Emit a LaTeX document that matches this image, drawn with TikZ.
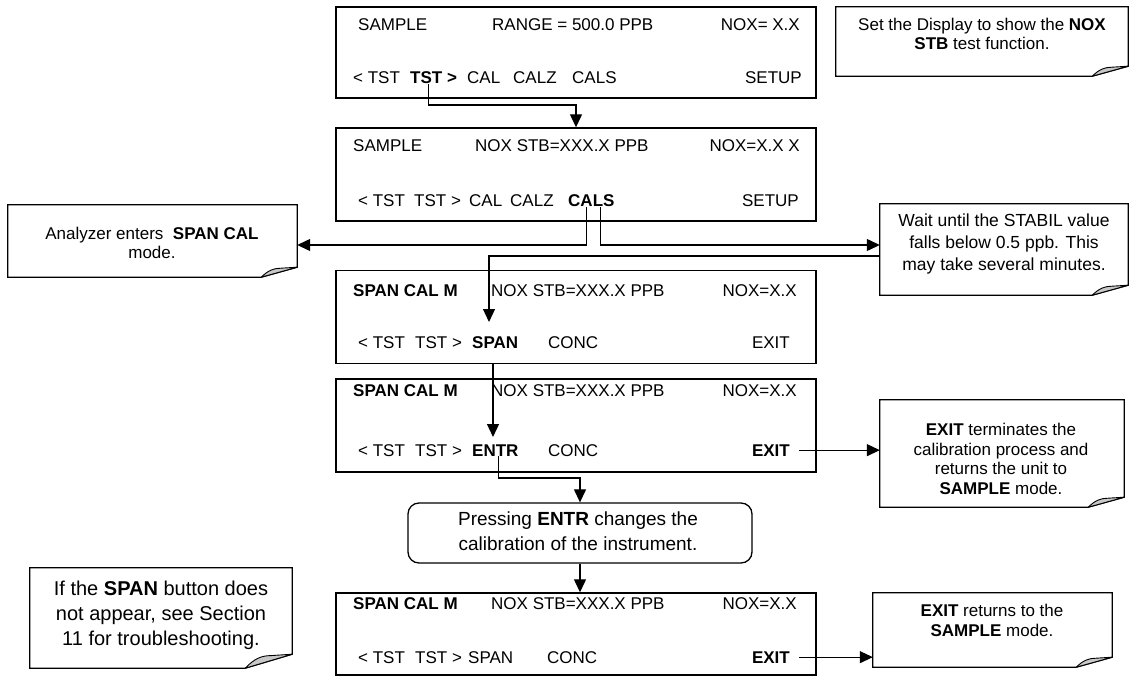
\documentclass[tikz,border=0pt]{standalone}
\usepackage{fontspec}
\setmainfont{Liberation Sans}
\usetikzlibrary{arrows.meta,calc}
\definecolor{foldgray}{RGB}{200,200,200}
\tikzset{
  lcd/.style={draw, line width=1.4pt, inner sep=0pt, minimum width=480pt},
  txt/.style={anchor=base west, inner sep=0pt, font=\fontsize{17}{20}\selectfont},
  rtxt/.style={anchor=base east, inner sep=0pt, font=\fontsize{17}{20}\selectfont},
  ntext/.style={align=center, inner sep=0pt},
  area/.style={inner sep=0pt, draw=none},
  noteline/.style={line width=1.3pt, line join=miter},
  flapline/.style={line width=0.9pt, line join=round},
  arr/.style={line width=1.2pt, -{Triangle[length=13pt,width=12pt]}},
}
\newcommand\notefold[3]{%
 \filldraw[noteline, fill=white] (#1.north west) -- (#1.north east) -- ($(#1.south east)+(0,-#3)$) -- ($(#1.south east)+(-#2,0)$) -- (#1.south west) -- cycle;
 \filldraw[flapline, fill=foldgray] ($(#1.south east)+(-#2,0)$) .. controls ($(#1.south east)+(-0.8*#2,-0.7*#3)$) and ($(#1.south east)+(-0.65*#2,-0.9*#3)$) .. ($(#1.south east)+(-0.45*#2,-0.9*#3)$) -- ($(#1.south east)+(0,-#3)$) -- cycle;
}
\begin{document}
\begin{tikzpicture}[x=1pt,y=-1pt]
\useasboundingbox (0,0) rectangle (1132,679);

% LCD boxes
\node[lcd, minimum height=91pt] (box1) at (576,52.5) {};
\node[lcd, minimum height=93pt] (box2) at (576,174.5) {};
\node[lcd, minimum height=93pt] (box3) at (576,317) {};
\node[lcd, minimum height=93pt] (box4) at (576,425.5) {};
\node[lcd, minimum height=82pt] (box5) at (576,634) {};

% box 1
\node[txt] (b1a) at (358,31) {SAMPLE};
\node[txt] (b1b) at (492,31) {RANGE = 500.0 PPB};
\node[rtxt] (b1c) at (800,31) {NOX= X.X};
\node[txt] (b1d) at (353,84) {< TST};
\node[txt] (tst1) at (410,84) {\textbf{TST >}};
\node[txt] (b1e) at (467,84) {CAL};
\node[txt] (b1f) at (513,84) {CALZ};
\node[txt] (b1g) at (572,84) {CALS};
\node[rtxt] (b1h) at (802,84) {SETUP};

% box 2
\node[txt] (b2a) at (353,152) {SAMPLE};
\node[txt] (b2b) at (475,152) {NOX STB=XXX.X PPB};
\node[rtxt] (b2c) at (800,152) {NOX=X.X X};
\node[txt] (b2d) at (358,207) {< TST};
\node[txt] (b2e) at (414,207) {TST >};
\node[txt] (b2f) at (469,207) {CAL};
\node[txt] (b2g) at (510,207) {CALZ};
\node[txt] (cals) at (568,207) {\textbf{CALS}};
\node[rtxt] (b2h) at (799,207) {SETUP};

% box 3
\node[txt] (b3a) at (353,296) {\textbf{SPAN CAL M}};
\node[txt] (b3b) at (491,296) {NOX STB=XXX.X PPB};
\node[rtxt] (b3c) at (797,296) {NOX=X.X};
\node[txt] (b3d) at (358,348) {< TST};
\node[txt] (b3e) at (415,348) {TST >};
\node[txt] (span3) at (472,348) {\textbf{SPAN}};
\node[txt] (b3f) at (548,348) {CONC};
\node[rtxt] (b3g) at (790,348) {EXIT};

% box 4
\node[txt] (b4a) at (353,396) {\textbf{SPAN CAL M}};
\node[txt] (b4b) at (491,396) {NOX STB=XXX.X PPB};
\node[rtxt] (b4c) at (797,396) {NOX=X.X};
\node[txt] (b4d) at (358,456) {< TST};
\node[txt] (b4e) at (415,456) {TST >};
\node[txt] (entr) at (472,456) {\textbf{ENTR}};
\node[txt] (b4f) at (548,456) {CONC};
\node[rtxt] (exit4) at (790,456) {\textbf{EXIT}};

% box 5
\node[txt] (b5a) at (353,609) {\textbf{SPAN CAL M}};
\node[txt] (b5b) at (491,609) {NOX STB=XXX.X PPB};
\node[rtxt] (b5c) at (797,609) {NOX=X.X};
\node[txt] (b5d) at (358,663) {< TST};
\node[txt] (b5e) at (415,663) {TST >};
\node[txt] (b5f) at (468,663) {SPAN};
\node[txt] (b5g) at (547,663) {CONC};
\node[rtxt] (exit5) at (790,663) {\textbf{EXIT}};

% callouts
\node[area, minimum width=292pt, minimum height=69pt] (c1) at (982,41.5) {};
\notefold{c1}{36}{10}
\node[ntext, font=\fontsize{17}{19}\selectfont] (c1t) at (982,34) {Set the Display to show the \textbf{NOX}\\\textbf{STB} test function.};

\node[area, minimum width=289pt, minimum height=72pt] (ca) at (152.5,241) {};
\notefold{ca}{36}{10}
\node[ntext, font=\fontsize{17}{19}\selectfont] (cat) at (152,243) {Analyzer enters \ \textbf{SPAN CAL}\\mode.};

\node[area, minimum width=248pt, minimum height=91pt] (cw) at (1004,249.5) {};
\notefold{cw}{36}{10}
\node[ntext, font=\fontsize{17.5}{22}\selectfont] (cwt) at (1004,244) {Wait until the STABIL value\\falls below 0.5 ppb. This\\may take several minutes.};

\node[area, minimum width=244pt, minimum height=107pt] (ce) at (1002,453.5) {};
\notefold{ce}{36}{10}
\node[ntext, font=\fontsize{17}{19.5}\selectfont] (cet) at (1001,459) {\textbf{EXIT} terminates the\\calibration process and\\returns the unit to\\\textbf{SAMPLE} mode.};

\node[area, minimum width=239pt, minimum height=74pt] (cr) at (992.5,630) {};
\notefold{cr}{36}{10}
\node[ntext, font=\fontsize{17}{20}\selectfont] (crt) at (992,620) {\textbf{EXIT} returns to the\\\textbf{SAMPLE} mode.};

\node[area, minimum width=262pt, minimum height=100pt] (cs) at (161,618) {};
\notefold{cs}{47}{14}
\node[ntext, font=\fontsize{20}{25}\selectfont] (cst) at (161,615) {If the \textbf{SPAN} button does\\not appear, see Section\\11 for troubleshooting.};

% pressing box
\node[draw, line width=1.3pt, rounded corners=11pt, inner sep=0pt, minimum width=344pt, minimum height=60pt] (pb) at (580,533) {};
\node[ntext, font=\fontsize{19}{25}\selectfont] (pbt) at (578,531) {Pressing \textbf{ENTR} changes the\\calibration of the instrument.};

% connectors
\coordinate (k1) at ([xshift=-5pt]tst1.south);
\draw[arr] (k1) -- (k1 |- 0,105) -| (box2.north);
\coordinate (k2) at ([xshift=-5pt]cals.south);
\draw[arr] (k2) |- (ca.east |- 0,245);
\coordinate (k3) at ([xshift=9pt]cals.south);
\draw[arr] (k3) |- (cw.west |- 0,245);
\coordinate (t4) at (489,322);
\draw[arr] (cw.west |- 0,256) -| (t4);
\coordinate (t5) at (493,437);
\draw[arr] (box3.south -| t5) -- (t5);
\coordinate (k6) at ([xshift=3pt]entr.south);
\draw[arr] (k6) -- (k6 |- 0,478) -| (pb.north);
\draw[arr] (pb.south) -- (pb.south |- box5.north);
\draw[arr] ([xshift=9pt]exit4.east) -- (exit4.east -| ce.west);
\draw[arr] ([xshift=9pt]exit5.east) -- (exit5.east -| cr.west);
\end{tikzpicture}
\end{document}
